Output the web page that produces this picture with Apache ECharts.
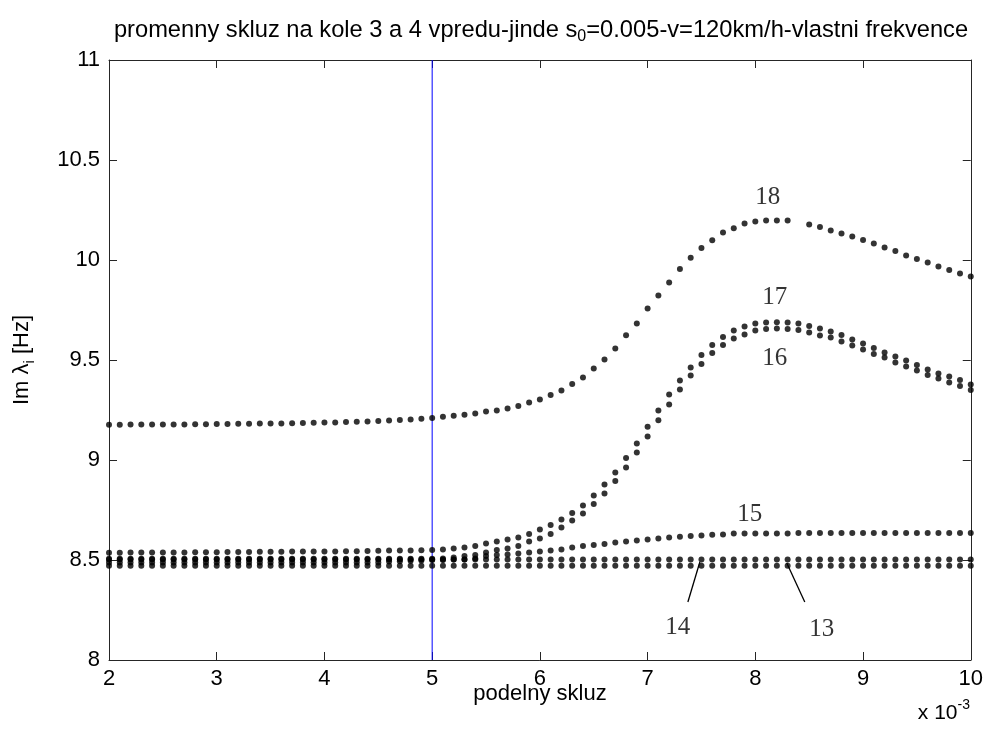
<!DOCTYPE html>
<html>
<head>
<meta charset="utf-8">
<title>vlastni frekvence</title>
<script src="https://cdn.jsdelivr.net/npm/echarts@6/dist/echarts.min.js"></script>
<style>
  html, body { margin: 0; padding: 0; background: #fff; }
  #main { width: 986px; height: 731px; }
</style>
</head>
<body>
<div id="main"></div>
<script>
// podelny skluz (x 10^-3)
var xs = [2.0,2.1,2.2,2.3,2.4,2.5,2.6,2.7,2.8,2.9,3.0,3.1,3.2,3.3,3.4,3.5,3.6,3.7,3.8,3.9,
  4.0,4.1,4.2,4.3,4.4,4.5,4.6,4.7,4.8,4.9,5.0,5.1,5.2,5.3,5.4,5.5,5.6,5.7,5.8,5.9,
  6.0,6.1,6.2,6.3,6.4,6.5,6.6,6.7,6.8,6.9,7.0,7.1,7.2,7.3,7.4,7.5,7.6,7.7,7.8,7.9,
  8.0,8.1,8.2,8.3,8.4,8.5,8.6,8.7,8.8,8.9,9.0,9.1,9.2,9.3,9.4,9.5,9.6,9.7,9.8,9.9,10.0];

// Im lambda_i [Hz]
var f18 = [9.176,9.176,9.177,9.177,9.177,9.178,9.178,9.178,9.179,9.179,9.180,
  9.180,9.181,9.181,9.182,9.182,9.183,9.184,9.185,9.186,9.187,9.188,9.190,9.191,9.193,
  9.195,9.197,9.200,9.203,9.206,9.210,
  9.216,9.221,9.226,9.232,9.243,9.248,9.258,9.270,9.287,9.303,
  9.325,9.347,9.380,9.413,9.457,9.502,9.557,9.624,9.683,9.757,
  9.822,9.888,9.955,10.011,10.060,10.099,10.137,10.159,10.182,10.193,
  10.198,10.198,10.198,null,10.177,10.165,10.148,10.132,10.117,10.100,
  10.083,10.062,10.045,10.022,10.005,9.988,9.967,9.950,9.933,9.917];

var f17 = [8.536,8.536,8.537,8.537,8.537,8.538,8.538,8.538,8.539,8.539,8.539,
  8.540,8.540,8.540,8.541,8.541,8.541,8.542,8.542,8.542,
  8.543,8.543,8.544,8.544,8.545,8.546,8.547,8.547,8.548,8.549,8.550,
  8.552,8.558,8.563,8.570,8.582,8.592,8.602,8.613,8.630,8.652,
  8.675,8.703,8.735,8.773,8.822,8.878,8.938,9.010,9.083,9.166,
  9.248,9.327,9.398,9.463,9.525,9.575,9.615,9.647,9.668,9.683,
  9.688,9.689,9.688,9.683,9.670,9.658,9.642,9.625,9.603,9.583,
  9.560,9.537,9.518,9.497,9.475,9.453,9.433,9.417,9.400,9.378];

var f16 = [8.506,8.506,8.506,8.506,8.506,8.506,8.506,8.506,8.506,8.506,8.506,
  8.506,8.506,8.506,8.506,8.506,8.506,8.506,8.506,8.506,
  8.506,8.506,8.506,8.506,8.506,8.506,8.506,8.506,8.506,8.506,8.506,
  8.507,8.513,8.520,8.525,8.537,8.550,8.558,8.570,8.592,8.607,
  8.630,8.663,8.697,8.733,8.780,8.833,8.895,8.962,9.038,9.117,
  9.199,9.277,9.353,9.422,9.480,9.535,9.575,9.608,9.628,9.647,
  9.655,9.658,9.655,9.650,9.638,9.622,9.612,9.592,9.572,9.552,
  9.530,9.512,9.488,9.468,9.447,9.425,9.408,9.387,9.370,9.350];

var f15 = [8.488,8.488,8.488,8.488,8.488,8.488,8.488,8.488,8.488,8.488,8.488,
  8.488,8.488,8.488,8.488,8.488,8.488,8.488,8.488,8.488,
  8.488,8.488,8.488,8.488,8.488,8.488,8.492,8.494,8.496,8.498,8.500,
  8.500,8.502,8.503,8.508,8.520,8.525,8.527,8.533,8.537,8.542,
  8.547,8.553,8.562,8.570,8.575,8.580,8.587,8.592,8.597,8.603,
  8.608,8.613,8.616,8.620,8.622,8.626,8.628,8.632,8.632,8.632,
  8.632,8.632,8.633,8.635,8.635,8.635,8.635,8.635,8.635,8.635,
  8.635,8.635,8.635,8.635,8.635,8.635,8.635,8.635,8.635,8.635];

var f14 = [8.503,8.503,8.503,8.503,8.503,8.503,8.503,8.503,8.503,8.503,8.503,
  8.503,8.503,8.503,8.503,8.503,8.503,8.503,8.503,8.503,
  8.503,8.503,8.503,8.503,8.503,8.503,8.503,8.503,8.503,8.503,8.503,
  8.503,8.503,8.503,8.503,8.503,8.503,8.503,8.503,8.503,8.503,
  8.503,8.503,8.503,8.503,8.503,8.503,8.503,8.503,8.503,8.503,
  8.503,8.503,8.503,8.503,8.503,8.503,8.503,8.503,8.503,8.503,
  8.503,8.503,8.503,8.503,8.503,8.503,8.503,8.503,8.503,8.503,
  8.503,8.503,8.503,8.503,8.503,8.503,8.503,8.503,8.503,8.503];

var f13 = [8.471,8.471,8.471,8.471,8.471,8.471,8.471,8.471,8.471,8.471,8.471,
  8.471,8.471,8.471,8.471,8.471,8.471,8.471,8.471,8.471,
  8.471,8.471,8.471,8.471,8.471,8.471,8.471,8.471,8.471,8.471,8.471,
  8.471,8.471,8.471,8.471,8.471,8.471,8.471,8.471,8.471,8.471,
  8.471,8.471,8.471,8.471,8.471,8.471,8.471,8.471,8.471,8.471,
  8.471,8.471,8.471,8.471,8.471,8.471,8.471,8.471,8.471,8.471,
  8.471,8.471,8.471,8.471,8.471,8.471,8.471,8.471,8.471,8.471,
  8.471,8.471,8.471,8.471,8.471,8.471,8.471,8.471,8.471,8.471];

// vertical marker at s0 = 0.005
var s0Line = [[5, 8], [5, 11]];

// curve numbers and their leader lines
var tagNames = ['18', '17', '16', '15', '14', '13'];
var tagX = [8.116, 8.181, 8.181, 7.949, 7.281, 8.617];
var tagY = [10.315, 9.815, 9.51, 8.73, 8.165, 8.155];
var lead14 = [[7.374, 8.29], [7.485, 8.49]];
var lead13 = [[8.292, 8.485], [8.459, 8.29]];

var SANS = 'Liberation Sans, Arial, sans-serif';
var SERIF = 'Liberation Serif, Times New Roman, serif';
var AX = '#262626';
var FS = 22;

function pairs(vals) {
  var out = [];
  for (var i = 0; i < xs.length; i++) {
    if (vals[i] != null) out.push([xs[i], vals[i]]);
  }
  return out;
}

function dots(name, vals) {
  return {
    name: name, type: 'scatter', data: pairs(vals),
    symbol: 'circle', symbolSize: 6,
    itemStyle: { color: '#000' }, silent: true, z: 3
  };
}

var tags = [];
for (var i = 0; i < tagNames.length; i++) tags.push([tagX[i], tagY[i], tagNames[i]]);

function xAx(pos, showLabel) {
  return {
    type: 'value', position: pos, min: 2, max: 10, interval: 1,
    axisLine: { show: true, onZero: false, lineStyle: { color: AX, width: 1 } },
    axisTick: { show: true, inside: true, length: 8, lineStyle: { color: AX } },
    axisLabel: { show: showLabel, color: '#000', fontFamily: SANS, fontSize: FS, margin: 8 },
    splitLine: { show: false }
  };
}
function yAx(pos, showLabel) {
  return {
    type: 'value', position: pos, min: 8, max: 11, interval: 0.5,
    axisLine: { show: true, onZero: false, lineStyle: { color: AX, width: 1 } },
    axisTick: { show: true, inside: true, length: 8, lineStyle: { color: AX } },
    axisLabel: { show: showLabel, color: '#000', fontFamily: SANS, fontSize: FS, margin: 9 },
    splitLine: { show: false }
  };
}

var chart = echarts.init(document.getElementById('main'));
chart.setOption({
  animation: false,
  backgroundColor: '#fff',
  title: {
    text: 'promenny skluz na kole 3 a 4 vpredu-jinde s{sub|0}=0.005-v=120km/h-vlastni frekvence',
    left: 536, top: 10, textAlign: 'center',
    textStyle: {
      fontFamily: SANS, fontSize: 23.7, fontWeight: 'normal', color: '#000', lineHeight: 30,
      rich: { sub: { fontFamily: SANS, fontSize: 16, lineHeight: 16, verticalAlign: 'bottom', color: '#000' } }
    }
  },
  grid: { left: 109, top: 60, width: 862, height: 600 },
  xAxis: [xAx('bottom', true), xAx('top', false)],
  yAxis: [yAx('left', true), yAx('right', false)],
  graphic: [
    {
      type: 'text', x: 22, y: 360, rotation: Math.PI / 2,
      style: {
        text: 'Im λ{sub|i} [Hz]', fill: '#000', font: FS + 'px ' + SANS,
        align: 'center', verticalAlign: 'middle', lineHeight: 30,
        rich: { sub: { fontFamily: SANS, fontSize: 15, lineHeight: 15, verticalAlign: 'bottom' } }
      }
    },
    {
      type: 'text', x: 540, y: 694,
      style: { text: 'podelny skluz', fill: '#000', font: FS + 'px ' + SANS, align: 'center', verticalAlign: 'middle' }
    },
    {
      type: 'text', x: 970, y: 713,
      style: {
        text: 'x 10{sup|-3}', fill: '#000', font: '21px ' + SANS,
        align: 'right', verticalAlign: 'middle', lineHeight: 30,
        rich: { sup: { fontFamily: SANS, fontSize: 14, lineHeight: 14, verticalAlign: 'top' } }
      }
    }
  ],
  series: [
    {
      type: 'line', data: s0Line, symbol: 'none', silent: true, z: 2,
      lineStyle: { color: '#0000ff', width: 1 }
    },
    dots('18', f18), dots('17', f17), dots('16', f16),
    dots('15', f15), dots('14', f14), dots('13', f13),
    {
      type: 'line', data: lead14, symbol: 'none', silent: true,
      lineStyle: { color: '#000', width: 1.3 }
    },
    {
      type: 'line', data: lead13, symbol: 'none', silent: true,
      lineStyle: { color: '#000', width: 1.3 }
    },
    {
      type: 'scatter', data: tags, symbolSize: 1, silent: true,
      itemStyle: { color: 'rgba(0,0,0,0)' },
      label: {
        show: true, position: 'inside', color: '#000',
        fontFamily: SERIF, fontSize: 25,
        formatter: function (p) { return p.value[2]; }
      }
    }
  ]
});
</script>
</body>
</html>
